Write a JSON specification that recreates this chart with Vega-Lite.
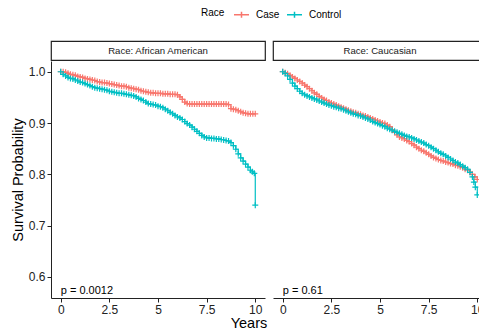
{
"$schema": "https://vega.github.io/schema/vega-lite/v6.json",
"padding": {"left": 10, "top": 6, "right": 0, "bottom": 0},
"datasets": {
"km": [
{"panel":"African American","Race":"Case","Years":0,"Survival":1.000},
{"panel":"African American","Race":"Case","Years":0.125,"Survival":1.000},
{"panel":"African American","Race":"Case","Years":0.25,"Survival":0.999},
{"panel":"African American","Race":"Case","Years":0.375,"Survival":0.997},
{"panel":"African American","Race":"Case","Years":0.5,"Survival":0.995},
{"panel":"African American","Race":"Case","Years":0.625,"Survival":0.994},
{"panel":"African American","Race":"Case","Years":0.75,"Survival":0.993},
{"panel":"African American","Race":"Case","Years":0.875,"Survival":0.991},
{"panel":"African American","Race":"Case","Years":1,"Survival":0.990},
{"panel":"African American","Race":"Case","Years":1.125,"Survival":0.989},
{"panel":"African American","Race":"Case","Years":1.25,"Survival":0.987},
{"panel":"African American","Race":"Case","Years":1.375,"Survival":0.986},
{"panel":"African American","Race":"Case","Years":1.5,"Survival":0.985},
{"panel":"African American","Race":"Case","Years":1.625,"Survival":0.984},
{"panel":"African American","Race":"Case","Years":1.75,"Survival":0.983},
{"panel":"African American","Race":"Case","Years":1.875,"Survival":0.981},
{"panel":"African American","Race":"Case","Years":2,"Survival":0.980},
{"panel":"African American","Race":"Case","Years":2.125,"Survival":0.979},
{"panel":"African American","Race":"Case","Years":2.25,"Survival":0.979},
{"panel":"African American","Race":"Case","Years":2.375,"Survival":0.978},
{"panel":"African American","Race":"Case","Years":2.5,"Survival":0.977},
{"panel":"African American","Race":"Case","Years":2.625,"Survival":0.976},
{"panel":"African American","Race":"Case","Years":2.75,"Survival":0.975},
{"panel":"African American","Race":"Case","Years":2.875,"Survival":0.974},
{"panel":"African American","Race":"Case","Years":3,"Survival":0.973},
{"panel":"African American","Race":"Case","Years":3.125,"Survival":0.972},
{"panel":"African American","Race":"Case","Years":3.25,"Survival":0.972},
{"panel":"African American","Race":"Case","Years":3.375,"Survival":0.971},
{"panel":"African American","Race":"Case","Years":3.5,"Survival":0.969},
{"panel":"African American","Race":"Case","Years":3.625,"Survival":0.968},
{"panel":"African American","Race":"Case","Years":3.75,"Survival":0.967},
{"panel":"African American","Race":"Case","Years":3.875,"Survival":0.966},
{"panel":"African American","Race":"Case","Years":4,"Survival":0.965},
{"panel":"African American","Race":"Case","Years":4.125,"Survival":0.963},
{"panel":"African American","Race":"Case","Years":4.25,"Survival":0.962},
{"panel":"African American","Race":"Case","Years":4.375,"Survival":0.961},
{"panel":"African American","Race":"Case","Years":4.5,"Survival":0.960},
{"panel":"African American","Race":"Case","Years":4.625,"Survival":0.959},
{"panel":"African American","Race":"Case","Years":4.75,"Survival":0.959},
{"panel":"African American","Race":"Case","Years":4.875,"Survival":0.958},
{"panel":"African American","Race":"Case","Years":5,"Survival":0.958},
{"panel":"African American","Race":"Case","Years":5.125,"Survival":0.958},
{"panel":"African American","Race":"Case","Years":5.25,"Survival":0.957},
{"panel":"African American","Race":"Case","Years":5.375,"Survival":0.957},
{"panel":"African American","Race":"Case","Years":5.5,"Survival":0.957},
{"panel":"African American","Race":"Case","Years":5.625,"Survival":0.956},
{"panel":"African American","Race":"Case","Years":5.75,"Survival":0.956},
{"panel":"African American","Race":"Case","Years":5.875,"Survival":0.956},
{"panel":"African American","Race":"Case","Years":6,"Survival":0.955},
{"panel":"African American","Race":"Case","Years":6.125,"Survival":0.951},
{"panel":"African American","Race":"Case","Years":6.25,"Survival":0.946},
{"panel":"African American","Race":"Case","Years":6.375,"Survival":0.941},
{"panel":"African American","Race":"Case","Years":6.5,"Survival":0.938},
{"panel":"African American","Race":"Case","Years":6.625,"Survival":0.937},
{"panel":"African American","Race":"Case","Years":6.75,"Survival":0.937},
{"panel":"African American","Race":"Case","Years":6.875,"Survival":0.937},
{"panel":"African American","Race":"Case","Years":7,"Survival":0.937},
{"panel":"African American","Race":"Case","Years":7.125,"Survival":0.937},
{"panel":"African American","Race":"Case","Years":7.25,"Survival":0.937},
{"panel":"African American","Race":"Case","Years":7.375,"Survival":0.937},
{"panel":"African American","Race":"Case","Years":7.5,"Survival":0.937},
{"panel":"African American","Race":"Case","Years":7.625,"Survival":0.937},
{"panel":"African American","Race":"Case","Years":7.75,"Survival":0.937},
{"panel":"African American","Race":"Case","Years":7.875,"Survival":0.937},
{"panel":"African American","Race":"Case","Years":8,"Survival":0.937},
{"panel":"African American","Race":"Case","Years":8.125,"Survival":0.937},
{"panel":"African American","Race":"Case","Years":8.25,"Survival":0.937},
{"panel":"African American","Race":"Case","Years":8.375,"Survival":0.937},
{"panel":"African American","Race":"Case","Years":8.5,"Survival":0.937},
{"panel":"African American","Race":"Case","Years":8.625,"Survival":0.936},
{"panel":"African American","Race":"Case","Years":8.75,"Survival":0.928},
{"panel":"African American","Race":"Case","Years":8.875,"Survival":0.927},
{"panel":"African American","Race":"Case","Years":9,"Survival":0.926},
{"panel":"African American","Race":"Case","Years":9.125,"Survival":0.924},
{"panel":"African American","Race":"Case","Years":9.25,"Survival":0.922},
{"panel":"African American","Race":"Case","Years":9.375,"Survival":0.920},
{"panel":"African American","Race":"Case","Years":9.5,"Survival":0.919},
{"panel":"African American","Race":"Case","Years":9.625,"Survival":0.918},
{"panel":"African American","Race":"Case","Years":9.75,"Survival":0.918},
{"panel":"African American","Race":"Case","Years":9.875,"Survival":0.918},
{"panel":"African American","Race":"Case","Years":10,"Survival":0.918},
{"panel":"African American","Race":"Control","Years":0,"Survival":1.000},
{"panel":"African American","Race":"Control","Years":0.125,"Survival":0.995},
{"panel":"African American","Race":"Control","Years":0.25,"Survival":0.992},
{"panel":"African American","Race":"Control","Years":0.375,"Survival":0.989},
{"panel":"African American","Race":"Control","Years":0.5,"Survival":0.987},
{"panel":"African American","Race":"Control","Years":0.625,"Survival":0.986},
{"panel":"African American","Race":"Control","Years":0.75,"Survival":0.984},
{"panel":"African American","Race":"Control","Years":0.875,"Survival":0.982},
{"panel":"African American","Race":"Control","Years":1,"Survival":0.980},
{"panel":"African American","Race":"Control","Years":1.125,"Survival":0.979},
{"panel":"African American","Race":"Control","Years":1.25,"Survival":0.977},
{"panel":"African American","Race":"Control","Years":1.375,"Survival":0.975},
{"panel":"African American","Race":"Control","Years":1.5,"Survival":0.973},
{"panel":"African American","Race":"Control","Years":1.625,"Survival":0.971},
{"panel":"African American","Race":"Control","Years":1.75,"Survival":0.969},
{"panel":"African American","Race":"Control","Years":1.875,"Survival":0.968},
{"panel":"African American","Race":"Control","Years":2,"Survival":0.967},
{"panel":"African American","Race":"Control","Years":2.125,"Survival":0.966},
{"panel":"African American","Race":"Control","Years":2.25,"Survival":0.965},
{"panel":"African American","Race":"Control","Years":2.375,"Survival":0.964},
{"panel":"African American","Race":"Control","Years":2.5,"Survival":0.962},
{"panel":"African American","Race":"Control","Years":2.625,"Survival":0.961},
{"panel":"African American","Race":"Control","Years":2.75,"Survival":0.960},
{"panel":"African American","Race":"Control","Years":2.875,"Survival":0.959},
{"panel":"African American","Race":"Control","Years":3,"Survival":0.958},
{"panel":"African American","Race":"Control","Years":3.125,"Survival":0.958},
{"panel":"African American","Race":"Control","Years":3.25,"Survival":0.957},
{"panel":"African American","Race":"Control","Years":3.375,"Survival":0.956},
{"panel":"African American","Race":"Control","Years":3.5,"Survival":0.955},
{"panel":"African American","Race":"Control","Years":3.625,"Survival":0.954},
{"panel":"African American","Race":"Control","Years":3.75,"Survival":0.953},
{"panel":"African American","Race":"Control","Years":3.875,"Survival":0.951},
{"panel":"African American","Race":"Control","Years":4,"Survival":0.948},
{"panel":"African American","Race":"Control","Years":4.125,"Survival":0.946},
{"panel":"African American","Race":"Control","Years":4.25,"Survival":0.944},
{"panel":"African American","Race":"Control","Years":4.375,"Survival":0.941},
{"panel":"African American","Race":"Control","Years":4.5,"Survival":0.938},
{"panel":"African American","Race":"Control","Years":4.625,"Survival":0.937},
{"panel":"African American","Race":"Control","Years":4.75,"Survival":0.936},
{"panel":"African American","Race":"Control","Years":4.875,"Survival":0.935},
{"panel":"African American","Race":"Control","Years":5,"Survival":0.933},
{"panel":"African American","Race":"Control","Years":5.125,"Survival":0.932},
{"panel":"African American","Race":"Control","Years":5.25,"Survival":0.930},
{"panel":"African American","Race":"Control","Years":5.375,"Survival":0.927},
{"panel":"African American","Race":"Control","Years":5.5,"Survival":0.924},
{"panel":"African American","Race":"Control","Years":5.625,"Survival":0.921},
{"panel":"African American","Race":"Control","Years":5.75,"Survival":0.918},
{"panel":"African American","Race":"Control","Years":5.875,"Survival":0.915},
{"panel":"African American","Race":"Control","Years":6,"Survival":0.912},
{"panel":"African American","Race":"Control","Years":6.125,"Survival":0.910},
{"panel":"African American","Race":"Control","Years":6.25,"Survival":0.907},
{"panel":"African American","Race":"Control","Years":6.375,"Survival":0.903},
{"panel":"African American","Race":"Control","Years":6.5,"Survival":0.899},
{"panel":"African American","Race":"Control","Years":6.625,"Survival":0.896},
{"panel":"African American","Race":"Control","Years":6.75,"Survival":0.892},
{"panel":"African American","Race":"Control","Years":6.875,"Survival":0.888},
{"panel":"African American","Race":"Control","Years":7,"Survival":0.884},
{"panel":"African American","Race":"Control","Years":7.125,"Survival":0.880},
{"panel":"African American","Race":"Control","Years":7.25,"Survival":0.876},
{"panel":"African American","Race":"Control","Years":7.375,"Survival":0.873},
{"panel":"African American","Race":"Control","Years":7.5,"Survival":0.871},
{"panel":"African American","Race":"Control","Years":7.625,"Survival":0.871},
{"panel":"African American","Race":"Control","Years":7.75,"Survival":0.870},
{"panel":"African American","Race":"Control","Years":7.875,"Survival":0.870},
{"panel":"African American","Race":"Control","Years":8,"Survival":0.869},
{"panel":"African American","Race":"Control","Years":8.125,"Survival":0.869},
{"panel":"African American","Race":"Control","Years":8.25,"Survival":0.868},
{"panel":"African American","Race":"Control","Years":8.375,"Survival":0.867},
{"panel":"African American","Race":"Control","Years":8.5,"Survival":0.866},
{"panel":"African American","Race":"Control","Years":8.625,"Survival":0.865},
{"panel":"African American","Race":"Control","Years":8.75,"Survival":0.862},
{"panel":"African American","Race":"Control","Years":8.875,"Survival":0.856},
{"panel":"African American","Race":"Control","Years":9,"Survival":0.849},
{"panel":"African American","Race":"Control","Years":9.125,"Survival":0.840},
{"panel":"African American","Race":"Control","Years":9.25,"Survival":0.832},
{"panel":"African American","Race":"Control","Years":9.375,"Survival":0.826},
{"panel":"African American","Race":"Control","Years":9.5,"Survival":0.820},
{"panel":"African American","Race":"Control","Years":9.625,"Survival":0.814},
{"panel":"African American","Race":"Control","Years":9.75,"Survival":0.808},
{"panel":"African American","Race":"Control","Years":9.85,"Survival":0.805},
{"panel":"African American","Race":"Control","Years":9.95,"Survival":0.802},
{"panel":"African American","Race":"Control","Years":10,"Survival":0.740},
{"panel":"Caucasian","Race":"Case","Years":0,"Survival":1.000},
{"panel":"Caucasian","Race":"Case","Years":0.125,"Survival":0.998},
{"panel":"Caucasian","Race":"Case","Years":0.25,"Survival":0.996},
{"panel":"Caucasian","Race":"Case","Years":0.375,"Survival":0.993},
{"panel":"Caucasian","Race":"Case","Years":0.5,"Survival":0.990},
{"panel":"Caucasian","Race":"Case","Years":0.625,"Survival":0.987},
{"panel":"Caucasian","Race":"Case","Years":0.75,"Survival":0.984},
{"panel":"Caucasian","Race":"Case","Years":0.875,"Survival":0.981},
{"panel":"Caucasian","Race":"Case","Years":1,"Survival":0.978},
{"panel":"Caucasian","Race":"Case","Years":1.125,"Survival":0.974},
{"panel":"Caucasian","Race":"Case","Years":1.25,"Survival":0.971},
{"panel":"Caucasian","Race":"Case","Years":1.375,"Survival":0.967},
{"panel":"Caucasian","Race":"Case","Years":1.5,"Survival":0.963},
{"panel":"Caucasian","Race":"Case","Years":1.625,"Survival":0.959},
{"panel":"Caucasian","Race":"Case","Years":1.75,"Survival":0.956},
{"panel":"Caucasian","Race":"Case","Years":1.875,"Survival":0.952},
{"panel":"Caucasian","Race":"Case","Years":2,"Survival":0.949},
{"panel":"Caucasian","Race":"Case","Years":2.125,"Survival":0.946},
{"panel":"Caucasian","Race":"Case","Years":2.25,"Survival":0.944},
{"panel":"Caucasian","Race":"Case","Years":2.375,"Survival":0.941},
{"panel":"Caucasian","Race":"Case","Years":2.5,"Survival":0.939},
{"panel":"Caucasian","Race":"Case","Years":2.625,"Survival":0.937},
{"panel":"Caucasian","Race":"Case","Years":2.75,"Survival":0.935},
{"panel":"Caucasian","Race":"Case","Years":2.875,"Survival":0.933},
{"panel":"Caucasian","Race":"Case","Years":3,"Survival":0.931},
{"panel":"Caucasian","Race":"Case","Years":3.125,"Survival":0.929},
{"panel":"Caucasian","Race":"Case","Years":3.25,"Survival":0.927},
{"panel":"Caucasian","Race":"Case","Years":3.375,"Survival":0.925},
{"panel":"Caucasian","Race":"Case","Years":3.5,"Survival":0.923},
{"panel":"Caucasian","Race":"Case","Years":3.625,"Survival":0.921},
{"panel":"Caucasian","Race":"Case","Years":3.75,"Survival":0.920},
{"panel":"Caucasian","Race":"Case","Years":3.875,"Survival":0.918},
{"panel":"Caucasian","Race":"Case","Years":4,"Survival":0.917},
{"panel":"Caucasian","Race":"Case","Years":4.125,"Survival":0.915},
{"panel":"Caucasian","Race":"Case","Years":4.25,"Survival":0.914},
{"panel":"Caucasian","Race":"Case","Years":4.375,"Survival":0.912},
{"panel":"Caucasian","Race":"Case","Years":4.5,"Survival":0.910},
{"panel":"Caucasian","Race":"Case","Years":4.625,"Survival":0.908},
{"panel":"Caucasian","Race":"Case","Years":4.75,"Survival":0.906},
{"panel":"Caucasian","Race":"Case","Years":4.875,"Survival":0.904},
{"panel":"Caucasian","Race":"Case","Years":5,"Survival":0.902},
{"panel":"Caucasian","Race":"Case","Years":5.125,"Survival":0.900},
{"panel":"Caucasian","Race":"Case","Years":5.25,"Survival":0.899},
{"panel":"Caucasian","Race":"Case","Years":5.375,"Survival":0.896},
{"panel":"Caucasian","Race":"Case","Years":5.5,"Survival":0.893},
{"panel":"Caucasian","Race":"Case","Years":5.625,"Survival":0.887},
{"panel":"Caucasian","Race":"Case","Years":5.75,"Survival":0.882},
{"panel":"Caucasian","Race":"Case","Years":5.875,"Survival":0.877},
{"panel":"Caucasian","Race":"Case","Years":6,"Survival":0.873},
{"panel":"Caucasian","Race":"Case","Years":6.125,"Survival":0.871},
{"panel":"Caucasian","Race":"Case","Years":6.25,"Survival":0.869},
{"panel":"Caucasian","Race":"Case","Years":6.375,"Survival":0.866},
{"panel":"Caucasian","Race":"Case","Years":6.5,"Survival":0.864},
{"panel":"Caucasian","Race":"Case","Years":6.625,"Survival":0.860},
{"panel":"Caucasian","Race":"Case","Years":6.75,"Survival":0.857},
{"panel":"Caucasian","Race":"Case","Years":6.875,"Survival":0.853},
{"panel":"Caucasian","Race":"Case","Years":7,"Survival":0.850},
{"panel":"Caucasian","Race":"Case","Years":7.125,"Survival":0.847},
{"panel":"Caucasian","Race":"Case","Years":7.25,"Survival":0.845},
{"panel":"Caucasian","Race":"Case","Years":7.375,"Survival":0.842},
{"panel":"Caucasian","Race":"Case","Years":7.5,"Survival":0.839},
{"panel":"Caucasian","Race":"Case","Years":7.625,"Survival":0.836},
{"panel":"Caucasian","Race":"Case","Years":7.75,"Survival":0.833},
{"panel":"Caucasian","Race":"Case","Years":7.875,"Survival":0.831},
{"panel":"Caucasian","Race":"Case","Years":8,"Survival":0.829},
{"panel":"Caucasian","Race":"Case","Years":8.125,"Survival":0.827},
{"panel":"Caucasian","Race":"Case","Years":8.25,"Survival":0.826},
{"panel":"Caucasian","Race":"Case","Years":8.375,"Survival":0.824},
{"panel":"Caucasian","Race":"Case","Years":8.5,"Survival":0.823},
{"panel":"Caucasian","Race":"Case","Years":8.625,"Survival":0.821},
{"panel":"Caucasian","Race":"Case","Years":8.75,"Survival":0.820},
{"panel":"Caucasian","Race":"Case","Years":8.875,"Survival":0.818},
{"panel":"Caucasian","Race":"Case","Years":9,"Survival":0.817},
{"panel":"Caucasian","Race":"Case","Years":9.125,"Survival":0.815},
{"panel":"Caucasian","Race":"Case","Years":9.25,"Survival":0.813},
{"panel":"Caucasian","Race":"Case","Years":9.375,"Survival":0.810},
{"panel":"Caucasian","Race":"Case","Years":9.5,"Survival":0.808},
{"panel":"Caucasian","Race":"Case","Years":9.625,"Survival":0.804},
{"panel":"Caucasian","Race":"Case","Years":9.75,"Survival":0.800},
{"panel":"Caucasian","Race":"Case","Years":9.875,"Survival":0.795},
{"panel":"Caucasian","Race":"Case","Years":10,"Survival":0.790},
{"panel":"Caucasian","Race":"Control","Years":0,"Survival":1.000},
{"panel":"Caucasian","Race":"Control","Years":0.125,"Survival":0.997},
{"panel":"Caucasian","Race":"Control","Years":0.25,"Survival":0.992},
{"panel":"Caucasian","Race":"Control","Years":0.375,"Survival":0.985},
{"panel":"Caucasian","Race":"Control","Years":0.5,"Survival":0.978},
{"panel":"Caucasian","Race":"Control","Years":0.625,"Survival":0.972},
{"panel":"Caucasian","Race":"Control","Years":0.75,"Survival":0.967},
{"panel":"Caucasian","Race":"Control","Years":0.875,"Survival":0.962},
{"panel":"Caucasian","Race":"Control","Years":1,"Survival":0.958},
{"panel":"Caucasian","Race":"Control","Years":1.125,"Survival":0.955},
{"panel":"Caucasian","Race":"Control","Years":1.25,"Survival":0.953},
{"panel":"Caucasian","Race":"Control","Years":1.375,"Survival":0.951},
{"panel":"Caucasian","Race":"Control","Years":1.5,"Survival":0.949},
{"panel":"Caucasian","Race":"Control","Years":1.625,"Survival":0.947},
{"panel":"Caucasian","Race":"Control","Years":1.75,"Survival":0.945},
{"panel":"Caucasian","Race":"Control","Years":1.875,"Survival":0.943},
{"panel":"Caucasian","Race":"Control","Years":2,"Survival":0.941},
{"panel":"Caucasian","Race":"Control","Years":2.125,"Survival":0.939},
{"panel":"Caucasian","Race":"Control","Years":2.25,"Survival":0.937},
{"panel":"Caucasian","Race":"Control","Years":2.375,"Survival":0.935},
{"panel":"Caucasian","Race":"Control","Years":2.5,"Survival":0.934},
{"panel":"Caucasian","Race":"Control","Years":2.625,"Survival":0.932},
{"panel":"Caucasian","Race":"Control","Years":2.75,"Survival":0.931},
{"panel":"Caucasian","Race":"Control","Years":2.875,"Survival":0.929},
{"panel":"Caucasian","Race":"Control","Years":3,"Survival":0.928},
{"panel":"Caucasian","Race":"Control","Years":3.125,"Survival":0.926},
{"panel":"Caucasian","Race":"Control","Years":3.25,"Survival":0.924},
{"panel":"Caucasian","Race":"Control","Years":3.375,"Survival":0.922},
{"panel":"Caucasian","Race":"Control","Years":3.5,"Survival":0.920},
{"panel":"Caucasian","Race":"Control","Years":3.625,"Survival":0.918},
{"panel":"Caucasian","Race":"Control","Years":3.75,"Survival":0.917},
{"panel":"Caucasian","Race":"Control","Years":3.875,"Survival":0.915},
{"panel":"Caucasian","Race":"Control","Years":4,"Survival":0.914},
{"panel":"Caucasian","Race":"Control","Years":4.125,"Survival":0.912},
{"panel":"Caucasian","Race":"Control","Years":4.25,"Survival":0.910},
{"panel":"Caucasian","Race":"Control","Years":4.375,"Survival":0.908},
{"panel":"Caucasian","Race":"Control","Years":4.5,"Survival":0.906},
{"panel":"Caucasian","Race":"Control","Years":4.625,"Survival":0.903},
{"panel":"Caucasian","Race":"Control","Years":4.75,"Survival":0.901},
{"panel":"Caucasian","Race":"Control","Years":4.875,"Survival":0.899},
{"panel":"Caucasian","Race":"Control","Years":5,"Survival":0.897},
{"panel":"Caucasian","Race":"Control","Years":5.125,"Survival":0.895},
{"panel":"Caucasian","Race":"Control","Years":5.25,"Survival":0.893},
{"panel":"Caucasian","Race":"Control","Years":5.375,"Survival":0.890},
{"panel":"Caucasian","Race":"Control","Years":5.5,"Survival":0.888},
{"panel":"Caucasian","Race":"Control","Years":5.625,"Survival":0.886},
{"panel":"Caucasian","Race":"Control","Years":5.75,"Survival":0.884},
{"panel":"Caucasian","Race":"Control","Years":5.875,"Survival":0.882},
{"panel":"Caucasian","Race":"Control","Years":6,"Survival":0.880},
{"panel":"Caucasian","Race":"Control","Years":6.125,"Survival":0.878},
{"panel":"Caucasian","Race":"Control","Years":6.25,"Survival":0.876},
{"panel":"Caucasian","Race":"Control","Years":6.375,"Survival":0.874},
{"panel":"Caucasian","Race":"Control","Years":6.5,"Survival":0.873},
{"panel":"Caucasian","Race":"Control","Years":6.625,"Survival":0.871},
{"panel":"Caucasian","Race":"Control","Years":6.75,"Survival":0.869},
{"panel":"Caucasian","Race":"Control","Years":6.875,"Survival":0.867},
{"panel":"Caucasian","Race":"Control","Years":7,"Survival":0.865},
{"panel":"Caucasian","Race":"Control","Years":7.125,"Survival":0.863},
{"panel":"Caucasian","Race":"Control","Years":7.25,"Survival":0.861},
{"panel":"Caucasian","Race":"Control","Years":7.375,"Survival":0.858},
{"panel":"Caucasian","Race":"Control","Years":7.5,"Survival":0.856},
{"panel":"Caucasian","Race":"Control","Years":7.625,"Survival":0.853},
{"panel":"Caucasian","Race":"Control","Years":7.75,"Survival":0.850},
{"panel":"Caucasian","Race":"Control","Years":7.875,"Survival":0.847},
{"panel":"Caucasian","Race":"Control","Years":8,"Survival":0.844},
{"panel":"Caucasian","Race":"Control","Years":8.125,"Survival":0.841},
{"panel":"Caucasian","Race":"Control","Years":8.25,"Survival":0.839},
{"panel":"Caucasian","Race":"Control","Years":8.375,"Survival":0.836},
{"panel":"Caucasian","Race":"Control","Years":8.5,"Survival":0.833},
{"panel":"Caucasian","Race":"Control","Years":8.625,"Survival":0.830},
{"panel":"Caucasian","Race":"Control","Years":8.75,"Survival":0.827},
{"panel":"Caucasian","Race":"Control","Years":8.875,"Survival":0.824},
{"panel":"Caucasian","Race":"Control","Years":9,"Survival":0.822},
{"panel":"Caucasian","Race":"Control","Years":9.125,"Survival":0.819},
{"panel":"Caucasian","Race":"Control","Years":9.25,"Survival":0.816},
{"panel":"Caucasian","Race":"Control","Years":9.375,"Survival":0.813},
{"panel":"Caucasian","Race":"Control","Years":9.5,"Survival":0.810},
{"panel":"Caucasian","Race":"Control","Years":9.625,"Survival":0.804},
{"panel":"Caucasian","Race":"Control","Years":9.75,"Survival":0.795},
{"panel":"Caucasian","Race":"Control","Years":9.825,"Survival":0.785},
{"panel":"Caucasian","Race":"Control","Years":9.9,"Survival":0.775},
{"panel":"Caucasian","Race":"Control","Years":10,"Survival":0.760}
],
"pv": [
{"panel":"African American","Years":0,"Survival":0.573,"label":"p = 0.0012"},
{"panel":"Caucasian","Years":0,"Survival":0.573,"label":"p = 0.61"}
]
},
"title": {"text": "Years", "orient": "bottom", "anchor": "middle", "fontSize": 14.5, "fontWeight": "normal", "font": "Liberation Sans", "color": "#000000", "offset": 2},
"spacing": 6,
"hconcat": [
{
"spacing": 0,
"vconcat": [
{
"width": 214, "height": 19,
"data": {"values": [{"strip": "Race: African American"}]},
"view": {"stroke": "#222222", "strokeWidth": 1.2, "fill": "#ffffff"},
"mark": {"type": "text", "font": "Liberation Sans", "fontSize": 9.6, "color": "#1A1A1A", "baseline": "middle", "align": "center"},
"encoding": {"text": {"field": "strip", "type": "nominal"}}
},
{
"width": 214, "height": 237,
"layer": [
{
"data": {"name": "km"},
"transform": [{"filter": "datum.panel === 'African American'"}],
"mark": {"type": "line", "interpolate": "step-after", "strokeWidth": 1.2, "clip": true},
"encoding": {
"x": {"field": "Years", "type": "quantitative", "scale": {"domain": [-0.5, 10.5], "nice": false, "zero": false}, "axis": {"values": [0, 2.5, 5, 7.5, 10], "format": ".1~f", "title": null}},
"y": {"field": "Survival", "type": "quantitative", "scale": {"domain": [0.559, 1.021], "nice": false, "zero": false}, "axis": {"values": [0.6, 0.7, 0.8, 0.9, 1.0], "format": ".1f", "title": "Survival Probability"}},
"color": {"field": "Race", "type": "nominal", "scale": {"domain": ["Case", "Control"], "range": ["#F8766D", "#00BFC4"]}, "legend": {"orient": "none", "legendX": 150, "legendY": -35}}
}
},
{
"data": {"name": "km"},
"transform": [{"filter": "datum.panel === 'African American'"}],
"mark": {"type": "point", "shape": "M-1,0H1M0,-1V1", "size": 36, "filled": false, "strokeWidth": 1.2, "opacity": 1, "clip": true},
"encoding": {
"x": {"field": "Years", "type": "quantitative"},
"y": {"field": "Survival", "type": "quantitative"},
"color": {"field": "Race", "type": "nominal"}
}
},
{
"data": {"name": "pv"},
"transform": [{"filter": "datum.panel === 'African American'"}],
"mark": {"type": "text", "align": "left", "baseline": "middle", "font": "Liberation Sans", "fontSize": 11, "color": "#000000"},
"encoding": {
"x": {"field": "Years", "type": "quantitative"},
"y": {"field": "Survival", "type": "quantitative"},
"text": {"field": "label", "type": "nominal"}
}
}
]
}
]
},
{
"spacing": 0,
"vconcat": [
{
"width": 214, "height": 19,
"data": {"values": [{"strip": "Race: Caucasian"}]},
"view": {"stroke": "#222222", "strokeWidth": 1.2, "fill": "#ffffff"},
"mark": {"type": "text", "font": "Liberation Sans", "fontSize": 9.6, "color": "#1A1A1A", "baseline": "middle", "align": "center"},
"encoding": {"text": {"field": "strip", "type": "nominal"}}
},
{
"width": 214, "height": 237,
"layer": [
{
"data": {"name": "km"},
"transform": [{"filter": "datum.panel === 'Caucasian'"}],
"mark": {"type": "line", "interpolate": "step-after", "strokeWidth": 1.2, "clip": true},
"encoding": {
"x": {"field": "Years", "type": "quantitative", "scale": {"domain": [-0.5, 10.5], "nice": false, "zero": false}, "axis": {"values": [0, 2.5, 5, 7.5, 10], "format": ".1~f", "title": null}},
"y": {"field": "Survival", "type": "quantitative", "scale": {"domain": [0.559, 1.021], "nice": false, "zero": false}, "axis": null},
"color": {"field": "Race", "type": "nominal", "scale": {"domain": ["Case", "Control"], "range": ["#F8766D", "#00BFC4"]}, "legend": {"orient": "none", "legendX": 150, "legendY": -35}}
}
},
{
"data": {"name": "km"},
"transform": [{"filter": "datum.panel === 'Caucasian'"}],
"mark": {"type": "point", "shape": "M-1,0H1M0,-1V1", "size": 36, "filled": false, "strokeWidth": 1.2, "opacity": 1, "clip": true},
"encoding": {
"x": {"field": "Years", "type": "quantitative"},
"y": {"field": "Survival", "type": "quantitative"},
"color": {"field": "Race", "type": "nominal"}
}
},
{
"data": {"name": "pv"},
"transform": [{"filter": "datum.panel === 'Caucasian'"}],
"mark": {"type": "text", "align": "left", "baseline": "middle", "font": "Liberation Sans", "fontSize": 11, "color": "#000000"},
"encoding": {
"x": {"field": "Years", "type": "quantitative"},
"y": {"field": "Survival", "type": "quantitative"},
"text": {"field": "label", "type": "nominal"}
}
}
]
}
]
}
],
"config": {
"view": {"stroke": null},
"font": "Liberation Sans",
"axis": {"grid": false, "domainColor": "#222222", "domainWidth": 1, "tickColor": "#222222", "tickWidth": 1, "tickSize": 4, "labelFont": "Liberation Sans", "labelFontSize": 12, "labelColor": "#222222", "labelPadding": 2, "titleFont": "Liberation Sans", "titleFontSize": 14.5, "titleFontWeight": "normal", "titleColor": "#000000", "titlePadding": 3},
"legend": {"direction": "horizontal", "titleOrient": "left", "titleFont": "Liberation Sans", "titleFontSize": 10, "titleFontWeight": "normal", "titleColor": "#000000", "labelFont": "Liberation Sans", "labelFontSize": 10, "labelColor": "#000000", "symbolSize": 225, "symbolStrokeWidth": 1.5, "symbolType": "M-1,0H1M0,-0.4V0.4", "columnPadding": 4, "labelOffset": 6, "titlePadding": 8}
}
}
